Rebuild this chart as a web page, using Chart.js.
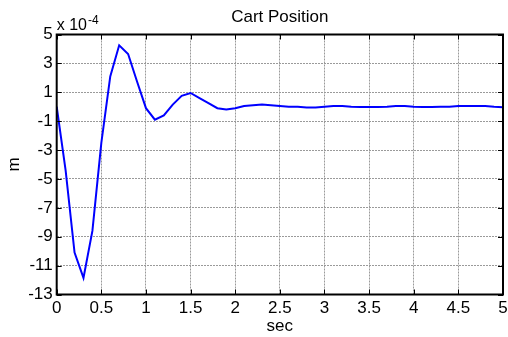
<!DOCTYPE html>
<html>
<head>
<meta charset="utf-8">
<script src="https://cdn.jsdelivr.net/npm/chart.js@4/dist/chart.umd.min.js"></script>
<style>
  html, body { margin: 0; padding: 0; background: #fff; }
  #wrap { width: 508px; height: 337px; position: relative; }
</style>
</head>
<body>
<div id="wrap"><canvas id="c" width="508" height="337"></canvas></div>
<script>
// time (sec)
const times = [0.0,0.1,0.2,0.3,0.4,0.5,0.6,0.7,0.8,0.9,
               1.0,1.1,1.2,1.3,1.4,1.5,1.6,1.7,1.8,1.9,
               2.0,2.1,2.2,2.3,2.4,2.5,2.6,2.7,2.8,2.9,
               3.0,3.1,3.2,3.3,3.4,3.5,3.6,3.7,3.8,3.9,
               4.0,4.1,4.2,4.3,4.4,4.5,4.6,4.7,4.8,4.9,5.0];
// cart position (m), in units of 1e-4
const position = [0.0,-4.4,-10.1,-11.85,-8.6,-2.5,2.1,4.25,3.65,1.75,
                  -0.1,-0.9,-0.6,0.15,0.75,0.95,0.6,0.25,-0.1,-0.2,
                  -0.1,0.05,0.1,0.15,0.1,0.05,0.0,0.0,-0.05,-0.05,
                  0.0,0.05,0.05,0.0,-0.02,-0.02,-0.02,0.0,0.05,0.05,
                  0.0,-0.02,-0.02,0.0,0.0,0.05,0.05,0.05,0.05,0.0,-0.03];
const xTicks = [0,0.5,1,1.5,2,2.5,3,3.5,4,4.5,5];
const xTickLabels = ['0','0.5','1','1.5','2','2.5','3','3.5','4','4.5','5'];
const yTicks = [-13,-11,-9,-7,-5,-3,-1,1,3,5];
const yTickLabels = ['-13','-11','-9','-7','-5','-3','-1','1','3','5'];
const titleText = 'Cart Position';
const xLabel = 'sec';
const yLabel = 'm';
const expBase = 'x 10';
const expPow = '-4';

const FONT = "'Liberation Sans', Arial, sans-serif";

const framePlugin = {
  id: 'frame',
  afterDatasetsDraw(chart) {
    const ctx = chart.ctx;
    const a = chart.chartArea;
    const xs = chart.scales.x, ys = chart.scales.y;
    ctx.save();
    ctx.strokeStyle = '#000';
    ctx.lineWidth = 1;
    const tl = 5;
    ctx.beginPath();
    xs.ticks.forEach(t => {
      const px = Math.round(xs.getPixelForValue(t.value)) + 0.5;
      ctx.moveTo(px, a.bottom); ctx.lineTo(px, a.bottom - tl);
      ctx.moveTo(px, a.top); ctx.lineTo(px, a.top + tl);
    });
    ys.ticks.forEach(t => {
      const py = Math.round(ys.getPixelForValue(t.value)) + 0.5;
      ctx.moveTo(a.left, py); ctx.lineTo(a.left + tl, py);
      ctx.moveTo(a.right, py); ctx.lineTo(a.right - tl, py);
    });
    ctx.stroke();
    ctx.lineWidth = 2;
    ctx.strokeRect(a.left, a.top, a.right - a.left, a.bottom - a.top);
    // title
    ctx.fillStyle = '#000';
    ctx.font = '17px ' + FONT;
    ctx.textAlign = 'center';
    ctx.textBaseline = 'alphabetic';
    ctx.fillText(titleText, (a.left + a.right) / 2, 21.5);
    // exponent label
    ctx.textAlign = 'left';
    ctx.font = '16px ' + FONT;
    ctx.fillText(expBase, a.left, 30);
    const w = ctx.measureText(expBase).width;
    ctx.font = '12px ' + FONT;
    ctx.fillText(expPow, a.left + w + 1, 23.5);
    ctx.restore();
  }
};

new Chart(document.getElementById('c'), {
  type: 'line',
  data: {
    datasets: [{
      data: times.map((t, i) => ({x: t, y: position[i]})),
      borderColor: '#0000ff',
      borderWidth: 2,
      pointRadius: 0,
      tension: 0,
      fill: false
    }]
  },
  options: {
    responsive: false,
    animation: false,
    devicePixelRatio: 1,
    layout: { padding: { top: 34.5, right: 0, bottom: 0, left: 0 } },
    plugins: { legend: { display: false }, title: { display: false }, tooltip: { enabled: false } },
    scales: {
      x: {
        type: 'linear', min: 0, max: 5,
        afterBuildTicks: s => { s.ticks = xTicks.map(v => ({value: v})); },
        afterFit: s => { s.height = 42.5; s.paddingRight = 5; },
        grid: { color: '#9a9a9a', lineWidth: 1, drawTicks: false },
        border: { display: false, dash: [2, 1] },
        ticks: { color: '#000', font: { family: FONT, size: 17 }, padding: 4, maxRotation: 0, autoSkip: false,
                 callback: (v, i) => xTickLabels[i] },
        title: { display: true, text: xLabel, color: '#000', font: { family: FONT, size: 17 }, padding: { top: 0, bottom: 0 } }
      },
      y: {
        type: 'linear', min: -13, max: 5,
        afterBuildTicks: s => { s.ticks = yTicks.map(v => ({value: v})); },
        afterFit: s => { s.width = 56.7; },
        grid: { color: '#9a9a9a', lineWidth: 1, drawTicks: false },
        border: { display: false, dash: [2, 1] },
        ticks: { color: '#000', font: { family: FONT, size: 17 }, padding: 4, autoSkip: false,
                 callback: (v, i) => yTickLabels[i] },
        title: { display: true, text: yLabel, color: '#000', font: { family: FONT, size: 17 }, padding: { top: 4, bottom: 0 } }
      }
    }
  },
  plugins: [framePlugin]
});
</script>
</body>
</html>
